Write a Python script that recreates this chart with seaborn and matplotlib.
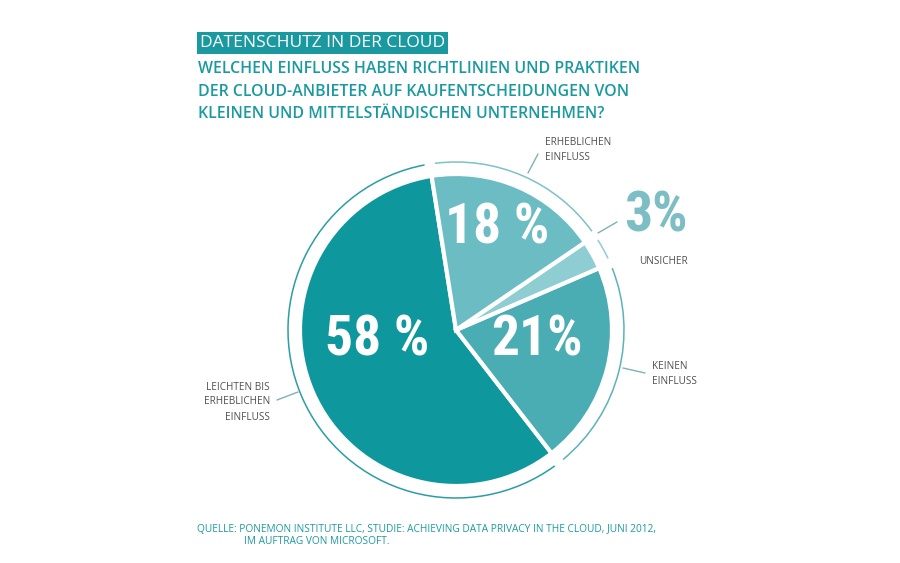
import matplotlib
matplotlib.use("Agg")
import matplotlib.pyplot as plt
import seaborn as sns
from matplotlib import font_manager as fm
from matplotlib.patches import Arc

# data
categories = ["LEICHTEN BIS\nERHEBLICHEN\nEINFLUSS", "KEINEN\nEINFLUSS", "UNSICHER", "ERHEBLICHEN\nEINFLUSS"]
shares = [58, 21, 3, 18]
pct_labels = ["58 %", "21%", "3%", "18 %"]
title = "DATENSCHUTZ IN DER CLOUD"
subtitle = ["WELCHEN EINFLUSS HABEN RICHTLINIEN UND PRAKTIKEN",
            "DER CLOUD-ANBIETER AUF KAUFENTSCHEIDUNGEN VON",
            "KLEINEN UND MITTELSTÄNDISCHEN UNTERNEHMEN?"]
source = ["QUELLE: PONEMON INSTITUTE LLC, STUDIE: ACHIEVING DATA PRIVACY IN THE CLOUD, JUNI 2012,",
          "IM AUFTRAG VON MICROSOFT."]

colors = sns.color_palette(["#0e979c", "#4aadb4", "#8ecdd1", "#6bbdc3"])
ring_colors = sns.color_palette(["#2a9ea3", "#5bb3b9", "#8ecdd1", "#7cc2c7"])
TEAL = "#1a9aa0"
GREY = "#505050"

sns.set_theme(style="white")
plt.rcParams["font.family"] = ["Open Sans", "DejaVu Sans"]

W, H = 900, 563


def Y(y):
    return H - y


def weight_of(f):
    w = f.weight
    if isinstance(w, str):
        return fm.weight_dict.get(w, 400)
    return w


def pick_big_font():
    for name, size in [("Liberation Sans Narrow", 42), ("Roboto Condensed", 40)]:
        for f in fm.fontManager.ttflist:
            if f.name == name and weight_of(f) >= 700 and f.style == "normal":
                return fm.FontProperties(fname=f.fname), size
    for f in fm.fontManager.ttflist:
        if f.name == "DejaVu Sans" and f.stretch == "condensed" and weight_of(f) >= 700 and f.style == "normal":
            return fm.FontProperties(fname=f.fname), 34
    return fm.FontProperties(family="Roboto", weight="bold"), 37


big_fp, big_size = pick_big_font()

fig = plt.figure(figsize=(9, 5.63), dpi=100)
ax = fig.add_axes([0, 0, 1, 1])

cx, cy, r = 456, Y(330), 156
start = 99
wedges, _ = ax.pie(shares, colors=colors, startangle=start, counterclock=True,
                   center=(cx, cy), radius=r,
                   wedgeprops=dict(edgecolor="white", linewidth=3))

# thin outer ring with gaps at wedge borders
for w, c in zip(wedges, ring_colors):
    ax.add_patch(Arc((cx, cy), 2 * 168, 2 * 168, theta1=w.theta1 + 1.8, theta2=w.theta2 - 1.8,
                     color=c, linewidth=1.1))

ax.set_xlim(0, W)
ax.set_ylim(0, H)
ax.set_aspect("equal")
ax.axis("off")

# percentages
pct_pos = [(377, 340), (537, 340), (656, 216), (497, 228)]
pct_col = ["white", "white", "#7dbec4", "white"]
for lab, (px, py), c in zip(pct_labels, pct_pos, pct_col):
    ax.text(px, Y(py), lab, fontproperties=big_fp, fontsize=big_size, color=c,
            ha="center", va="center")

# category labels and leader lines
cat_pos = [(270, 402, "right"), (652, 374, "left"), (663, 262, "center"), (545, 150, "left")]
for lab, (px, py, ha) in zip(categories, cat_pos):
    ax.text(px, Y(py), lab, fontsize=7.2, color=GREY, ha=ha, va="center",
            linespacing=1.5, multialignment=ha)

leaders = [((277, 400), (298, 392)), ((623, 368), (645, 373)),
           ((598, 233), (617, 222)), ((528, 173), (538, 154))]
for (x0, y0), (x1, y1) in leaders:
    ax.plot([x0, x1], [Y(y0), Y(y1)], color="#7fb1b6", linewidth=1)

# header
ax.text(200, Y(43), title, fontsize=12.5, color="white", ha="left", va="center",
        bbox=dict(boxstyle="square,pad=0.15", fc=TEAL, ec="none"))
for i, line in enumerate(subtitle):
    ax.text(198, Y(69 + 22.5 * i), line, fontsize=11.4, color=TEAL,
            fontweight="semibold", ha="left", va="center")

# source
ax.text(197, Y(529), source[0], fontsize=7.3, color=TEAL, ha="left", va="center")
ax.text(244, Y(542), source[1], fontsize=7.3, color=TEAL, ha="left", va="center")

fig.savefig("out.png", dpi=100, facecolor="white")
plt.close(fig)
